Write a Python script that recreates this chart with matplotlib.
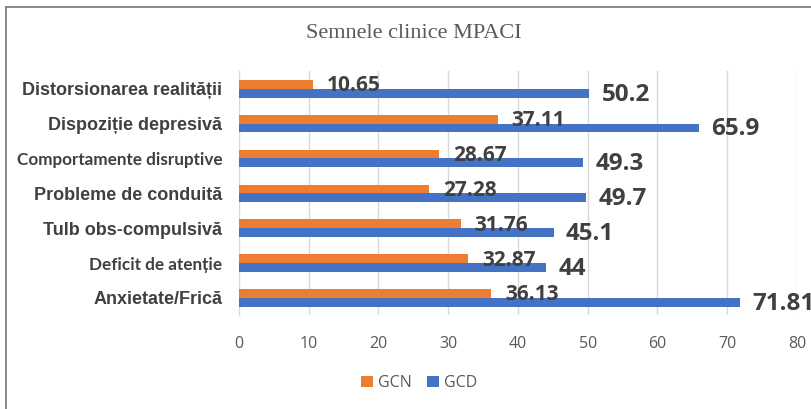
import numpy as np
import matplotlib
matplotlib.use('Agg')
import matplotlib.pyplot as plt
from matplotlib.lines import Line2D

# data, bottom row first
categories = ['Anxietate/Frică', 'Deficit de atenție', 'Tulb obs-compulsivă',
              'Probleme de conduită', 'Comportamente disruptive',
              'Dispoziție depresivă', 'Distorsionarea realității']
gcn = [36.13, 32.87, 31.76, 27.28, 28.67, 37.11, 10.65]
gcd = [71.81, 44, 45.1, 49.7, 49.3, 65.9, 50.2]
gcd_labels = ['71.81', '44', '45.1', '49.7', '49.3', '65.9', '50.2']
small_cats = ['Comportamente disruptive', 'Deficit de atenție']

orange = '#ED7D31'
blue = '#4472C4'
txt = '#404040'

fig = plt.figure(figsize=(8.12, 4.09), dpi=100)
ax = fig.add_axes([239/812, 1 - 315.4/409, (797-239)/812, (315.4-71.3)/409])

y = np.arange(len(categories))
h = 0.252
ax.barh(y + h/2, gcn, height=h, color=orange, label='GCN', zorder=2)
ax.barh(y - h/2, gcd, height=h, color=blue, label='GCD', zorder=2)

for i in range(len(categories)):
    ax.annotate(f'{gcn[i]:.2f}', (gcn[i], y[i] + h/2), xytext=(10, -1),
                textcoords='offset points', va='center', ha='left',
                fontsize=15, fontweight='bold', family='Open Sans', color=txt, zorder=3)
    ax.annotate(gcd_labels[i], (gcd[i], y[i] - h/2), xytext=(9, -1),
                textcoords='offset points', va='center', ha='left',
                fontsize=17.5, fontweight='bold', family='Open Sans', color=txt, zorder=3,
                annotation_clip=False)

ax.set_xlim(0, 80)
ax.set_ylim(-0.5, len(categories) - 0.5)
ax.set_xticks(range(0, 81, 10))
ax.set_yticks(y)
ax.set_yticklabels(categories)
for lab in ax.get_yticklabels():
    lab.set_fontweight('bold')
    lab.set_color(txt)
    if lab.get_text() in small_cats:
        lab.set_family('Lato')
        lab.set_fontsize(12.3)
    else:
        lab.set_family('Liberation Sans')
        lab.set_fontsize(13)
ax.tick_params(axis='y', length=0, pad=12)
ax.tick_params(axis='x', length=0, pad=15, labelsize=11.5, labelcolor='#595959')
for lab in ax.get_xticklabels():
    lab.set_family('Open Sans')

ax.grid(axis='x', color='#D9D9D9', linewidth=1, zorder=0)
for s in ['top', 'right', 'bottom']:
    ax.spines[s].set_visible(False)
ax.spines['left'].set_color('#D9D9D9')
ax.spines['left'].set_zorder(1)

fig.text(414/812, 1 - 34/409, 'Semnele clinice MPACI', ha='center', va='center',
         fontsize=16, family='Liberation Serif', color='#595959')

fig.legend(loc='center', bbox_to_anchor=(419/812, 1 - 383/409), ncol=2, frameon=False,
           prop={'family': 'Open Sans', 'size': 11.5}, labelcolor='#595959',
           handlelength=0.75, handleheight=0.75, handletextpad=0.3, columnspacing=1.0)

# chart frame (top and left edges visible in the crop)
fig.add_artist(Line2D([6/812, 1], [1 - 7/409, 1 - 7/409], color='#808080', linewidth=1.3))
fig.add_artist(Line2D([6/812, 6/812], [0, 1 - 7/409], color='#808080', linewidth=1.3))

fig.savefig('out.png', dpi=100)
